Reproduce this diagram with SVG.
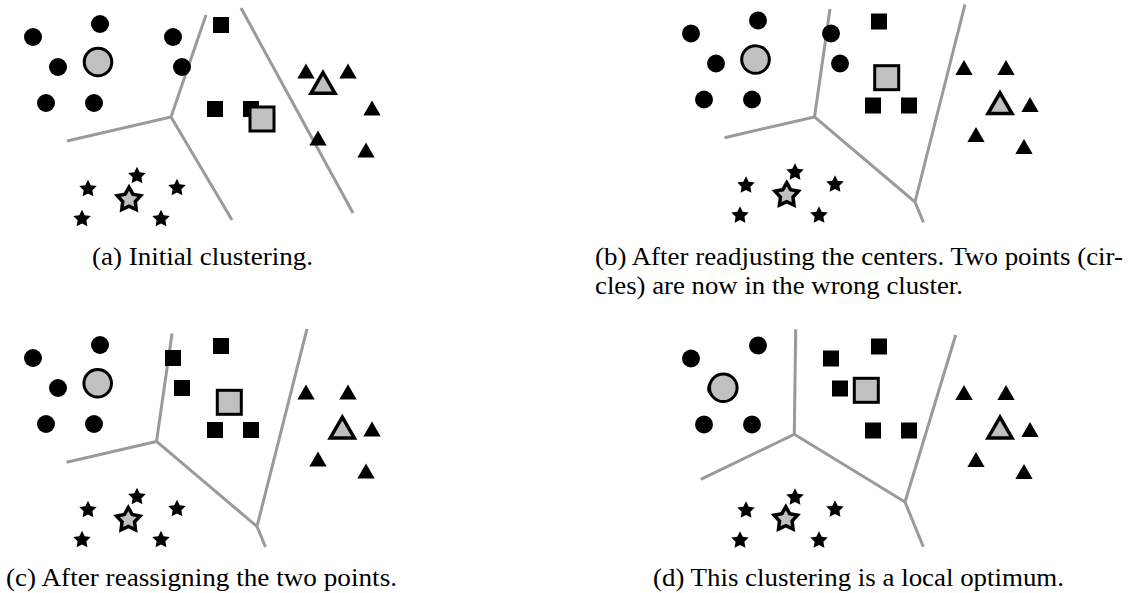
<svg xmlns="http://www.w3.org/2000/svg" width="1133" height="593" viewBox="0 0 1133 593">
<style>
.bg{fill:#fff}
.ln{stroke:#9a9a9a;stroke-width:3;fill:none;stroke-linejoin:miter}
.pt{fill:#000}
.ctr{fill:#c0c0c0;stroke:#000;stroke-width:3;stroke-linejoin:miter}
.ctr2{fill:#c0c0c0;stroke:#000;stroke-width:3.5;stroke-linejoin:miter}
.cap{font-family:"Liberation Serif","DejaVu Serif",serif;font-size:24.5px;fill:#000}
</style>
<defs>
<circle id="dot" class="pt" r="9"/>
<rect id="sq" class="pt" x="-8" y="-8" width="16" height="16"/>
<path id="tri" class="pt" d="M0,-7.5 L8.66,7.5 L-8.66,7.5 Z"/>
<path id="star" class="pt" d="M0,-8.32 L2.7,-2.84 L8.75,-1.96 L4.38,2.3 L5.41,8.32 L0,5.48 L-5.41,8.32 L-4.38,2.3 L-8.75,-1.96 L-2.7,-2.84 Z"/>
<circle id="gdot" class="ctr" r="13.8"/>
<rect id="gsq" class="ctr" x="-12" y="-12" width="24" height="24"/>
<path id="gtri" class="ctr2" d="M0,-9.5 L12,11.3 L-12,11.3 Z"/>
<path id="gstar" class="ctr2" d="M0,-10.78 L3.88,-3.82 L11.7,-2.28 L6.28,3.56 L7.23,11.47 L0,8.12 L-7.23,11.47 L-6.28,3.56 L-11.7,-2.28 L-3.88,-3.82 Z"/>
</defs>
<rect class="bg" x="0" y="0" width="1133" height="593"/>

<!-- Panel (a) -->
<g id="panel-a">
  <g id="a-connectors">
    <path class="ln" d="M206,15 L171,117 L67,141 M171,117 L232,220 M241,8 L353,213"/>
  </g>
  <g id="a-points">
    <use id="a-c1" href="#dot" x="33" y="37"/>
    <use id="a-c2" href="#dot" x="100" y="24"/>
    <use id="a-c3" href="#dot" x="58" y="67"/>
    <use id="a-c4" href="#dot" x="46" y="103"/>
    <use id="a-c5" href="#dot" x="94" y="103"/>
    <use id="a-c6" href="#dot" x="173" y="37"/>
    <use id="a-c7" href="#dot" x="182" y="67"/>
    <use id="a-s1" href="#sq" x="221" y="25"/>
    <use id="a-s2" href="#sq" x="215" y="109"/>
    <use id="a-s3" href="#sq" x="251" y="109"/>
    <use id="a-t1" href="#tri" x="306" y="71"/>
    <use id="a-t2" href="#tri" x="348" y="71"/>
    <use id="a-t3" href="#tri" x="372" y="108"/>
    <use id="a-t4" href="#tri" x="318" y="138"/>
    <use id="a-t5" href="#tri" x="366" y="150"/>
    <use id="a-p1" href="#star" x="137" y="175"/>
    <use id="a-p2" href="#star" x="88" y="188"/>
    <use id="a-p3" href="#star" x="177" y="187"/>
    <use id="a-p4" href="#star" x="82" y="218"/>
    <use id="a-p5" href="#star" x="161" y="218"/>
  </g>
  <g id="a-centers">
    <use id="a-gc" href="#gdot" x="98" y="62"/>
    <use id="a-gs" href="#gsq" x="262" y="119"/>
    <use id="a-gt" href="#gtri" x="323" y="82"/>
    <use id="a-gp" href="#gstar" x="129" y="198"/>
  </g>
  <text id="cap-a" class="cap" x="92" y="264.5" textLength="221" lengthAdjust="spacingAndGlyphs">(a) Initial clustering.</text>
</g>

<!-- Panel (b) -->
<g id="panel-b">
  <g transform="translate(658,-3.5)">
    <g id="b-connectors">
      <path class="ln" d="M172,12.5 L156.5,120.4 L66.5,141.2 M156.5,120.4 L257,205.5 L265.5,226 M307,7.8 L257,205.5"/>
    </g>
    <g id="b-points">
      <use id="b-c1" href="#dot" x="33" y="37"/>
      <use id="b-c2" href="#dot" x="100" y="24"/>
      <use id="b-c3" href="#dot" x="58" y="67"/>
      <use id="b-c4" href="#dot" x="46" y="103"/>
      <use id="b-c5" href="#dot" x="94" y="103"/>
      <use id="b-c6" href="#dot" x="173" y="37"/>
      <use id="b-c7" href="#dot" x="182" y="67"/>
      <use id="b-s1" href="#sq" x="221" y="25"/>
      <use id="b-s2" href="#sq" x="215" y="109"/>
      <use id="b-s3" href="#sq" x="251" y="109"/>
      <use id="b-t1" href="#tri" x="306" y="71"/>
      <use id="b-t2" href="#tri" x="348" y="71"/>
      <use id="b-t3" href="#tri" x="372" y="108"/>
      <use id="b-t4" href="#tri" x="318" y="138"/>
      <use id="b-t5" href="#tri" x="366" y="150"/>
      <use id="b-p1" href="#star" x="137" y="175"/>
      <use id="b-p2" href="#star" x="88" y="188"/>
      <use id="b-p3" href="#star" x="177" y="187"/>
      <use id="b-p4" href="#star" x="82" y="218"/>
      <use id="b-p5" href="#star" x="161" y="218"/>
    </g>
    <g id="b-centers">
      <use id="b-gc" href="#gdot" x="97.5" y="63"/>
      <use id="b-gs" href="#gsq" x="228.7" y="81.2"/>
      <use id="b-gt" href="#gtri" x="342" y="105.8"/>
      <use id="b-gp" href="#gstar" x="128.7" y="197"/>
    </g>
  </g>
  <text id="cap-b1" class="cap" x="595" y="264.5" textLength="528" lengthAdjust="spacingAndGlyphs">(b) After readjusting the centers.  Two points (cir-</text>
  <text id="cap-b2" class="cap" x="595" y="293.5" textLength="368" lengthAdjust="spacingAndGlyphs">cles) are now in the wrong cluster.</text>
</g>

<!-- Panel (c) -->
<g id="panel-c">
  <g transform="translate(0,321)">
    <g id="c-connectors">
      <path class="ln" d="M172,12.5 L156.5,120.4 L66.5,141.2 M156.5,120.4 L257,205.5 L265.5,226 M307,7.8 L257,205.5"/>
    </g>
    <g id="c-points">
      <use id="c-c1" href="#dot" x="33" y="37"/>
      <use id="c-c2" href="#dot" x="100" y="24"/>
      <use id="c-c3" href="#dot" x="58" y="67"/>
      <use id="c-c4" href="#dot" x="46" y="103"/>
      <use id="c-c5" href="#dot" x="94" y="103"/>
      <use id="c-s6" href="#sq" x="173" y="37"/>
      <use id="c-s7" href="#sq" x="182" y="67"/>
      <use id="c-s1" href="#sq" x="221" y="25"/>
      <use id="c-s2" href="#sq" x="215" y="109"/>
      <use id="c-s3" href="#sq" x="251" y="109"/>
      <use id="c-t1" href="#tri" x="306" y="71"/>
      <use id="c-t2" href="#tri" x="348" y="71"/>
      <use id="c-t3" href="#tri" x="372" y="108"/>
      <use id="c-t4" href="#tri" x="318" y="138"/>
      <use id="c-t5" href="#tri" x="366" y="150"/>
      <use id="c-p1" href="#star" x="137" y="175"/>
      <use id="c-p2" href="#star" x="88" y="188"/>
      <use id="c-p3" href="#star" x="177" y="187"/>
      <use id="c-p4" href="#star" x="82" y="218"/>
      <use id="c-p5" href="#star" x="161" y="218"/>
    </g>
    <g id="c-centers">
      <use id="c-gc" href="#gdot" x="97.7" y="62.3"/>
      <use id="c-gs" href="#gsq" x="229.3" y="81.3"/>
      <use id="c-gt" href="#gtri" x="342.3" y="105.7"/>
      <use id="c-gp" href="#gstar" x="128.3" y="197.3"/>
    </g>
  </g>
  <text id="cap-c" class="cap" x="6" y="585.5" textLength="391" lengthAdjust="spacingAndGlyphs">(c) After reassigning the two points.</text>
</g>

<!-- Panel (d) -->
<g id="panel-d">
  <g transform="translate(658,321.5)">
    <g id="d-connectors">
      <path class="ln" d="M137.7,7.8 L136.3,112.8 L42.7,157.8 M136.3,112.8 L247,180.5 L265.3,225.2 M297.7,13.5 L247,180.5"/>
    </g>
    <g id="d-points">
      <use id="d-c1" href="#dot" x="33" y="37"/>
      <use id="d-c2" href="#dot" x="100" y="24"/>
      <use id="d-c3" href="#dot" x="58" y="67"/>
      <use id="d-c4" href="#dot" x="46" y="103"/>
      <use id="d-c5" href="#dot" x="94" y="103"/>
      <use id="d-s6" href="#sq" x="173" y="37"/>
      <use id="d-s7" href="#sq" x="182" y="67"/>
      <use id="d-s1" href="#sq" x="221" y="25"/>
      <use id="d-s2" href="#sq" x="215" y="109"/>
      <use id="d-s3" href="#sq" x="251" y="109"/>
      <use id="d-t1" href="#tri" x="306" y="71"/>
      <use id="d-t2" href="#tri" x="348" y="71"/>
      <use id="d-t3" href="#tri" x="372" y="108"/>
      <use id="d-t4" href="#tri" x="318" y="138"/>
      <use id="d-t5" href="#tri" x="366" y="150"/>
      <use id="d-p1" href="#star" x="137" y="175"/>
      <use id="d-p2" href="#star" x="88" y="188"/>
      <use id="d-p3" href="#star" x="177" y="187"/>
      <use id="d-p4" href="#star" x="82" y="218"/>
      <use id="d-p5" href="#star" x="161" y="218"/>
    </g>
    <g id="d-centers">
      <use id="d-gc" href="#gdot" x="65.3" y="66.2"/>
      <use id="d-gs" href="#gsq" x="208.3" y="68.8"/>
      <use id="d-gt" href="#gtri" x="342" y="105.2"/>
      <use id="d-gp" href="#gstar" x="127.8" y="196"/>
    </g>
  </g>
  <text id="cap-d" class="cap" x="653" y="585.5" textLength="411" lengthAdjust="spacingAndGlyphs">(d) This clustering is a local optimum.</text>
</g>
</svg>
